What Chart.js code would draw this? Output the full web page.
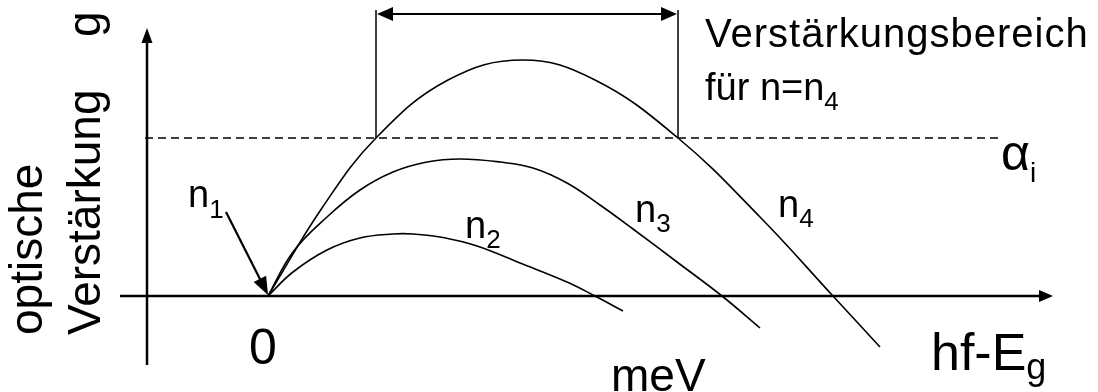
<!DOCTYPE html>
<html>
<head>
<meta charset="utf-8">
<script src="https://cdn.jsdelivr.net/npm/chart.js@4/dist/chart.umd.min.js"></script>
<style>
  html, body { margin: 0; padding: 0; background: #fff; }
  #wrap { width: 1098px; height: 392px; position: relative; }
</style>
</head>
<body>
<div id="wrap"><canvas id="gainChart"></canvas></div>
<script>
// Optische Verstärkung g über hf-E_g für Ladungsträgerdichten n1..n4 (schematisch)
const n4E = [0, 5.4, 10.8, 18.0, 25.5, 32.7, 41.0, 49.2, 56.5, 61.2];
const n4G = [0, 8.8, 15.8, 21.6, 23.6, 21.6, 15.8, 7.9, 0, -5.1];

const n3E = [0, 2.5, 5.9, 9.2, 12.5, 15.9, 19.2, 23.2, 26.5, 29.9, 33.2, 36.5, 40.9, 45.4, 49.2];
const n3G = [0, 4.4, 7.9, 10.6, 12.4, 13.4, 13.7, 13.4, 12.8, 11.3, 9.1, 6.7, 3.4, 0, -3.2];

const n2E = [0, 2.5, 5.9, 9.2, 12.5, 14.5, 17.5, 20.9, 25.2, 29.9, 32.7, 35.5];
const n2G = [0, 2.4, 4.6, 5.8, 6.2, 6.2, 5.85, 5.0, 3.3, 1.4, 0, -1.5];

// interne Verluste alpha_i und Verstärkungsbereich für n = n4
const alphaI = 15.8;
const alphaSpan = [-12.3, 73.5];
const bandEdges = [10.8, 41.0];
const bandTop = 28.6;
const bandArrowG = 28.2;

// Achsen
const xAxisSpan = [-14.8, 78.5];
const yAxisSpan = [-6.9, 26.8];
const yAxisAt = -12.1;
const xTickValues = [0];
const xTickLabels = ['0'];
// Pfeil auf n1 (zeigt auf den Ursprung)
const n1Arrow = [[-4.2, 8.4], [0, 0]];

const FONT = '"Liberation Sans", Arial, sans-serif';

function pts(xs, ys) { return xs.map((v, i) => ({ x: v, y: ys[i] })); }

function curve(data, extra) {
  return Object.assign({
    data, showLine: true, borderColor: '#000', borderWidth: 1.6,
    pointRadius: 0, tension: 0.4, fill: false
  }, extra || {});
}

function arrowHead(ctx, x1, y1, x2, y2, len, half) {
  const a = Math.atan2(y2 - y1, x2 - x1);
  const bx = x2 - len * Math.cos(a), by = y2 - len * Math.sin(a);
  ctx.beginPath();
  ctx.moveTo(x2, y2);
  ctx.lineTo(bx + half * Math.sin(a), by - half * Math.cos(a));
  ctx.lineTo(bx - half * Math.sin(a), by + half * Math.cos(a));
  ctx.closePath();
  ctx.fill();
}

function arrow(ctx, x1, y1, x2, y2, len, half, lw) {
  const a = Math.atan2(y2 - y1, x2 - x1);
  ctx.lineWidth = lw;
  ctx.beginPath();
  ctx.moveTo(x1, y1);
  ctx.lineTo(x2 - (len - 1) * Math.cos(a), y2 - (len - 1) * Math.sin(a));
  ctx.stroke();
  arrowHead(ctx, x1, y1, x2, y2, len, half);
}

// Text mit tiefgestelltem Index
function subText(ctx, main, sub, x, y, size, subSize, drop) {
  ctx.font = size + 'px ' + FONT;
  ctx.fillText(main, x, y);
  const w = ctx.measureText(main).width;
  ctx.font = subSize + 'px ' + FONT;
  ctx.fillText(sub, x + w, y + drop);
}

const axesPlugin = {
  id: 'axes',
  beforeDatasetsDraw(chart) {
    const { ctx, scales: { x, y } } = chart;
    ctx.save();
    ctx.strokeStyle = '#000'; ctx.fillStyle = '#000';
    // x-Achse
    arrow(ctx, x.getPixelForValue(xAxisSpan[0]), y.getPixelForValue(0),
      x.getPixelForValue(xAxisSpan[1]), y.getPixelForValue(0), 14, 6, 2.5);
    // y-Achse
    arrow(ctx, x.getPixelForValue(yAxisAt), y.getPixelForValue(yAxisSpan[0]),
      x.getPixelForValue(yAxisAt), y.getPixelForValue(yAxisSpan[1]), 15, 5.5, 2.5);
    // Doppelpfeil über dem Verstärkungsbereich
    const xa = x.getPixelForValue(bandEdges[0]), xb = x.getPixelForValue(bandEdges[1]);
    const ya = y.getPixelForValue(bandArrowG);
    arrow(ctx, (xa + xb) / 2, ya, xa + 1, ya, 16, 7, 2.2);
    arrow(ctx, (xa + xb) / 2, ya, xb - 1, ya, 16, 7, 2.2);
    ctx.restore();
  },
  afterDatasetsDraw(chart) {
    const { ctx, scales: { x, y } } = chart;
    ctx.save();
    ctx.fillStyle = '#000'; ctx.strokeStyle = '#000';
    ctx.textAlign = 'left'; ctx.textBaseline = 'alphabetic';

    // Pfeil zu n1
    arrow(ctx, x.getPixelForValue(n1Arrow[0][0]), y.getPixelForValue(n1Arrow[0][1]),
      x.getPixelForValue(n1Arrow[1][0]), y.getPixelForValue(n1Arrow[1][1]) - 1, 18, 7, 2.2);

    // Achsenbeschriftung y (gedreht)
    ctx.font = '46px ' + FONT;
    ctx.save(); ctx.translate(42, 335); ctx.rotate(-Math.PI / 2); ctx.fillText('optische', 0, 0); ctx.restore();
    ctx.save(); ctx.translate(100, 335); ctx.rotate(-Math.PI / 2); ctx.fillText('Verstärkung', 0, 0); ctx.restore();
    ctx.save(); ctx.translate(100, 37); ctx.rotate(-Math.PI / 2); ctx.fillText('g', 0, 0); ctx.restore();

    // x-Tick und Achsenbeschriftung
    ctx.font = '50px ' + FONT;
    ctx.textAlign = 'center';
    xTickValues.forEach((v, i) => ctx.fillText(xTickLabels[i], x.getPixelForValue(v) - 5, 364));
    ctx.textAlign = 'left';
    ctx.font = '46px ' + FONT;
    ctx.fillText('meV', 611, 391);
    subText(ctx, 'hf-E', 'g', 931, 370, 52, 36, 9);

    // Kurvenbeschriftungen
    subText(ctx, 'n', '1', 188, 207, 38, 26, 11);
    subText(ctx, 'n', '2', 465, 238, 38, 26, 10);
    subText(ctx, 'n', '3', 635, 222, 38, 26, 10);
    subText(ctx, 'n', '4', 778, 217, 38, 26, 10);
    subText(ctx, 'α', 'i', 1001, 170, 50, 28, 12);

    ctx.font = '40px ' + FONT;
    ctx.letterSpacing = '1px';
    ctx.fillText('Verstärkungsbereich', 705, 47);
    ctx.letterSpacing = '0px';
    subText(ctx, 'für n=n', '4', 705, 100, 38, 26, 10);
    ctx.restore();
  }
};

new Chart(document.getElementById('gainChart'), {
  type: 'scatter',
  data: {
    datasets: [
      curve(pts(n4E, n4G)),
      curve(pts(n3E, n3G)),
      curve(pts(n2E, n2G)),
      curve(pts(alphaSpan, [alphaI, alphaI]), { borderDash: [8, 5], borderWidth: 1.5, tension: 0 }),
      curve(pts([bandEdges[0], bandEdges[0]], [alphaI, bandTop]), { borderWidth: 1.5, tension: 0 }),
      curve(pts([bandEdges[1], bandEdges[1]], [alphaI, bandTop]), { borderWidth: 1.5, tension: 0 })
    ]
  },
  options: {
    responsive: true, maintainAspectRatio: false, animation: false,
    devicePixelRatio: 1,
    layout: { padding: 0 },
    plugins: { legend: { display: false }, tooltip: { enabled: false } },
    scales: {
      x: { type: 'linear', min: -26.8, max: 83.0, display: false },
      y: { type: 'linear', min: -9.6, max: 29.6, display: false }
    }
  },
  plugins: [axesPlugin]
});
</script>
</body>
</html>
